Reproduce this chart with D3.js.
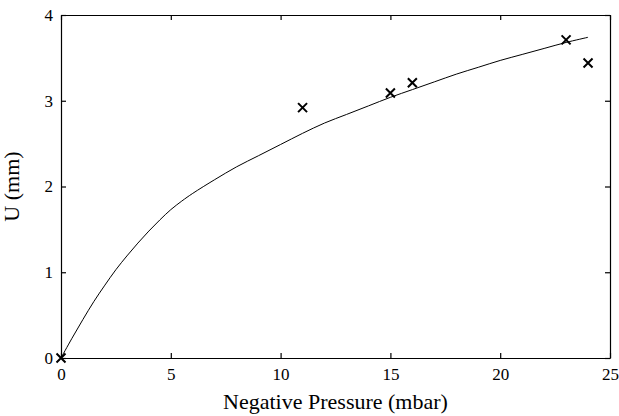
<!DOCTYPE html>
<html>
<head>
<meta charset="utf-8">
<script src="https://cdn.jsdelivr.net/npm/d3@7"></script>
<style>
body { margin: 0; background: #fff; }
svg text { font-family: "Liberation Serif", serif !important; }
.axis path, .axis line { stroke: #000; stroke-width: 1.2; }
</style>
</head>
<body>
<svg width="619" height="416"></svg>
<script>
// measured points
var pressure = [0, 11, 15, 16, 23, 24];
var displacement = [0, 2.92, 3.09, 3.21, 3.71, 3.44];
// fitted curve
var curveP = [0, 0.5, 1, 1.5, 2, 2.5, 3, 3.5, 4, 4.5, 5, 5.5, 6, 7, 8, 9, 10, 11, 12, 13, 14, 15, 16, 17, 18, 19, 20, 21, 22, 23, 24];
var curveU = [0, 0.23, 0.45, 0.66, 0.85, 1.03, 1.19, 1.34, 1.48, 1.61, 1.73, 1.83, 1.92, 2.08, 2.23, 2.36, 2.49, 2.62, 2.74, 2.84, 2.94, 3.04, 3.13, 3.22, 3.31, 3.39, 3.47, 3.54, 3.61, 3.68, 3.74];
var xTicks = [0, 5, 10, 15, 20, 25];
var yTicks = [0, 1, 2, 3, 4];

var margin = { left : 61, top : 15, right : 9, bottom : 58 };
var svg = d3.select("svg").style("font-family", "Liberation Serif");
var width = 619 - margin.left - margin.right;
var height = 416 - margin.top - margin.bottom;
var g = svg.append("g").attr("transform",
		"translate(" + margin.left + "," + margin.top + ")");

var x = d3.scaleLinear().domain([ 0, 25 ]).range([ 0, width ]);
var y = d3.scaleLinear().domain([ 0, 4 ]).range([ height, 0 ]);

g.append("g").attr("class", "axis").attr("transform", "translate(0," + height + ")")
		.call(d3.axisBottom(x).tickValues(xTicks).tickFormat(d3.format("d"))
				.tickSizeInner(-5).tickSizeOuter(0).tickPadding(10));
g.append("g").attr("class", "axis")
		.call(d3.axisLeft(y).tickValues(yTicks).tickFormat(d3.format("d"))
				.tickSizeInner(-5).tickSizeOuter(0).tickPadding(8));
g.append("g").attr("class", "axis")
		.call(d3.axisTop(x).tickValues(xTicks).tickSizeInner(-5).tickSizeOuter(0).tickFormat(""));
g.append("g").attr("class", "axis").attr("transform", "translate(" + width + ",0)")
		.call(d3.axisRight(y).tickValues(yTicks).tickSizeInner(-5).tickSizeOuter(0).tickFormat(""));
g.selectAll(".axis").attr("font-family", null).attr("font-size", null);
g.selectAll(".axis text").style("font-size", "17px").attr("fill", "#000");

var line = d3.line().curve(d3.curveCatmullRom)
		.x(function(d, i) { return x(curveP[i]); })
		.y(function(d) { return y(d); });
g.append("path").datum(curveU).attr("d", line)
		.attr("fill", "none").attr("stroke", "#000").attr("stroke-width", 1);

var s = 4.5;
var marks = g.append("g").selectAll("g").data(pressure).enter().append("g")
		.attr("transform", function(d, i) {
			return "translate(" + x(d) + "," + y(displacement[i]) + ")";
		});
marks.append("path").attr("d", "M" + (-s) + "," + (-s) + "L" + s + "," + s
		+ "M" + (-s) + "," + s + "L" + s + "," + (-s))
		.attr("stroke", "#000").attr("stroke-width", 2).attr("fill", "none");

svg.append("text").attr("x", margin.left + width / 2).attr("y", 409)
		.attr("text-anchor", "middle").style("font-size", "22px")
		.text("Negative Pressure (mbar)");
svg.append("text").attr("transform", "translate(18.5," + (margin.top + height / 2) + ") rotate(-90)")
		.attr("text-anchor", "middle").style("font-size", "22px")
		.text("U (mm)");
</script>
</body>
</html>
